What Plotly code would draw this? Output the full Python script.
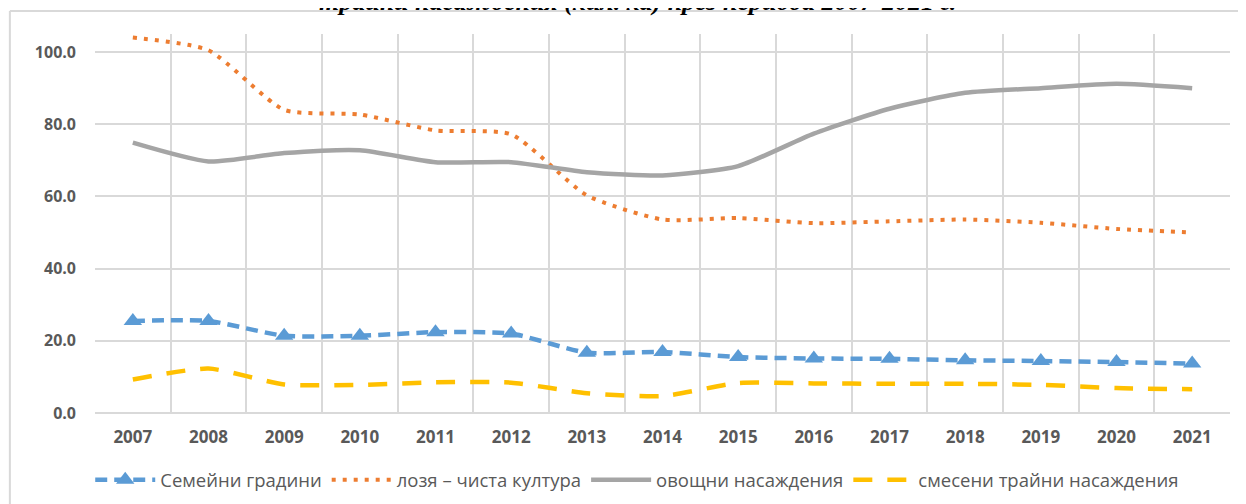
import plotly.graph_objects as go

years = [str(y) for y in range(2007, 2022)]
semeyni = [25.5, 25.5, 21.4, 21.4, 22.4, 22.0, 16.7, 16.9, 15.5, 15.1, 15.0, 14.6, 14.4, 14.1, 13.7]
loza = [104.0, 100.5, 84.0, 82.7, 78.3, 77.2, 60.3, 53.6, 54.0, 52.6, 53.1, 53.6, 52.7, 51.0, 50.0]
ovoshtni = [74.9, 69.7, 72.0, 72.8, 69.5, 69.5, 66.7, 65.8, 68.4, 77.4, 84.3, 88.7, 90.0, 91.2, 90.0]
smeseni = [9.3, 12.3, 7.9, 7.8, 8.5, 8.4, 5.5, 4.7, 8.3, 8.2, 8.1, 8.1, 7.8, 6.9, 6.6]
names = ["Семейни градини", "лозя – чиста култура", "овощни насаждения", "смесени трайни насаждения"]
y_ticks = [0, 20, 40, 60, 80, 100]
title_text = "трайни насаждения (хил. ха) през периода 2007-2021 г."

fig = go.Figure()
fig.add_trace(go.Scatter(x=years, y=semeyni, name=names[0], mode="lines+markers",
                         line=dict(color="#5B9BD5", width=4.5, dash="12px,7px", shape="spline", smoothing=0.6),
                         marker=dict(symbol="triangle-up", size=16, color="#5B9BD5")))
fig.add_trace(go.Scatter(x=years, y=loza, name=names[1], mode="lines",
                         line=dict(color="#ED7D31", width=4, dash="4px,7px", shape="spline", smoothing=0.6)))
fig.add_trace(go.Scatter(x=years, y=ovoshtni, name=names[2], mode="lines",
                         line=dict(color="#A5A5A5", width=4.5, shape="spline", smoothing=0.6)))
fig.add_trace(go.Scatter(x=years, y=smeseni, name=names[3], mode="lines",
                         line=dict(color="#FFC000", width=4.5, dash="19px,15px", shape="spline", smoothing=0.6)))

fig.update_layout(
    width=1246, height=504,
    margin=dict(l=87, r=24, t=26, b=99, autoexpand=False),
    paper_bgcolor="white", plot_bgcolor="white",
    font=dict(family="Open Sans", color="#595959"),
    legend=dict(orientation="h", xref="container", yref="container", x=0.505, y=0.063,
                xanchor="center", yanchor="middle", font=dict(size=18.5, color="#595959"),
                itemwidth=60, traceorder="normal"),
    showlegend=True,
)
fig.update_xaxes(type="category", tickson="boundaries", range=[-0.5, 14.5], showgrid=True,
                 gridcolor="#D9D9D9", gridwidth=2,
                 ticks="", showline=False, zeroline=False, automargin=False,
                 tickfont=dict(size=17, color="#595959", family="Open Sans", weight="bold"),
                 ticklabelstandoff=12)
fig.update_yaxes(range=[0, 105], tickvals=y_ticks, tickformat=".1f", showgrid=True, gridcolor="#D9D9D9",
                 gridwidth=2, zeroline=True, zerolinecolor="#D9D9D9", zerolinewidth=2, showline=False,
                 automargin=False,
                 ticks="", tickfont=dict(size=16, color="#595959", family="Open Sans", weight="bold"),
                 ticklabelstandoff=18)

# chart frame (left and top edges)
fig.add_shape(type="line", xref="paper", yref="paper", x0=-0.075, x1=-0.075, y0=-0.3, y1=1.0607,
              line=dict(color="#D9D9D9", width=2))
fig.add_shape(type="line", xref="paper", yref="paper", x0=-0.075, x1=1.1, y0=1.0607, y1=1.0607,
              line=dict(color="#D9D9D9", width=2))

fig.add_annotation(text=title_text, xref="paper", yref="paper", x=0.478, y=1.042,
                   xanchor="center", yanchor="bottom", showarrow=False,
                   font=dict(family="Liberation Serif", size=26, color="black", weight="bold", style="italic"))

fig.write_html("out.html")
